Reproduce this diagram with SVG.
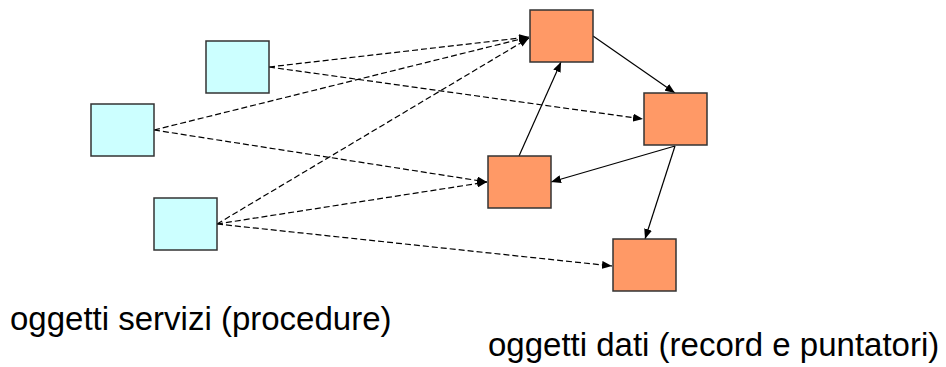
<svg xmlns="http://www.w3.org/2000/svg" width="946" height="367" viewBox="0 0 946 367">
<style>
.svc{fill:#CCFFFF;stroke:#333;stroke-width:1.5}
.dat{fill:#FF9966;stroke:#333;stroke-width:1.5}
.dash{fill:none;stroke:#000;stroke-width:1.2;stroke-dasharray:6,3}
.solid{fill:none;stroke:#000;stroke-width:1.2}
.lbl{font-family:"Liberation Sans",Arial,sans-serif;font-size:33px;fill:#000}
</style>
<defs>
<marker id="ah" viewBox="0 0 10 8" refX="10" refY="4" markerWidth="10" markerHeight="8" markerUnits="userSpaceOnUse" orient="auto">
<path d="M0,0 L10,4 L0,8 Z" fill="#000"/>
</marker>
</defs>
<g id="connectors">
<line class="dash" x1="269" y1="67" x2="529" y2="37" marker-end="url(#ah)"/>
<line class="dash" x1="269" y1="67" x2="643" y2="119" marker-end="url(#ah)"/>
<line class="dash" x1="154" y1="130" x2="529" y2="37" marker-end="url(#ah)"/>
<line class="dash" x1="154" y1="130" x2="487" y2="182" marker-end="url(#ah)"/>
<line class="dash" x1="217" y1="224" x2="529" y2="38" marker-end="url(#ah)"/>
<line class="dash" x1="217" y1="224" x2="487" y2="182" marker-end="url(#ah)"/>
<line class="dash" x1="217" y1="224" x2="612" y2="266" marker-end="url(#ah)"/>
<line class="solid" x1="593" y1="36" x2="675" y2="93" marker-end="url(#ah)"/>
<line class="solid" x1="519" y1="156" x2="561" y2="62" marker-end="url(#ah)"/>
<line class="solid" x1="675" y1="146" x2="551" y2="182" marker-end="url(#ah)"/>
<line class="solid" x1="675" y1="146" x2="645" y2="239" marker-end="url(#ah)"/>
</g>
<g id="svc1"><rect class="svc" x="206" y="41" width="63" height="52"/></g>
<g id="svc2"><rect class="svc" x="91" y="104" width="63" height="52"/></g>
<g id="svc3"><rect class="svc" x="154" y="198" width="63" height="52"/></g>
<g id="dat1"><rect class="dat" x="530" y="10" width="63" height="52"/></g>
<g id="dat2"><rect class="dat" x="644" y="93" width="63" height="52"/></g>
<g id="dat3"><rect class="dat" x="488" y="156" width="63" height="52"/></g>
<g id="dat4"><rect class="dat" x="613" y="239" width="63" height="52"/></g>
<text class="lbl" x="10" y="330">oggetti servizi (procedure)</text>
<text class="lbl" x="488" y="356">oggetti dati (record e puntatori)</text>
</svg>
